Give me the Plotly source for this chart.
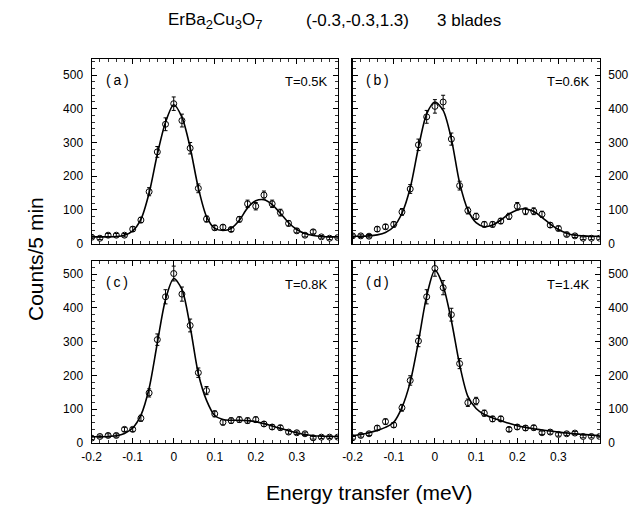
import plotly.graph_objects as go

# ---------------- data ----------------
energy = [-0.20, -0.18, -0.16, -0.14, -0.12, -0.10, -0.08, -0.06, -0.04, -0.02,
          0.00, 0.02, 0.04, 0.06, 0.08, 0.10, 0.12, 0.14, 0.16, 0.18,
          0.20, 0.22, 0.24, 0.26, 0.28, 0.30, 0.32, 0.34, 0.36, 0.38, 0.40]

counts_a = [19, 16, 25, 25, 25, 43, 70, 154, 272, 354, 415, 365, 283, 164, 73, 47,
            49, 42, 72, 118, 111, 144, 118, 92, 60, 38, 25, 35, 20, 16, 18]
err_a = [4, 4, 5, 5, 5, 7, 8, 12, 16, 19, 20, 19, 17, 13, 9, 7,
         7, 6, 8, 11, 11, 12, 11, 10, 8, 6, 5, 6, 4, 4, 4]
fit_a = [20, 20, 20, 21, 25, 38, 72, 150, 265, 360, 412, 375, 285, 165, 80, 45,
         39, 45, 69, 106, 127, 130, 116, 90, 62, 42, 30, 24, 21, 20, 20]

counts_b = [23, 23, 22, 43, 50, 57, 94, 162, 293, 376, 407, 420, 310, 172, 98, 81,
            57, 57, 67, 81, 111, 96, 96, 87, 55, 45, 27, 23, 16, 16, 16]
err_b = [5, 5, 5, 7, 7, 8, 10, 13, 17, 19, 20, 20, 18, 13, 10, 9,
         8, 8, 8, 9, 11, 10, 10, 9, 7, 7, 5, 5, 4, 4, 4]
fit_b = [22, 22, 23, 26, 33, 50, 90, 165, 285, 385, 420, 395, 310, 180, 100, 62,
         50, 55, 70, 88, 100, 103, 95, 78, 58, 42, 31, 25, 23, 22, 22]

counts_c = [14, 19, 22, 22, 40, 40, 73, 148, 306, 433, 502, 441, 348, 208, 155, 86,
            61, 66, 69, 66, 69, 56, 47, 45, 32, 30, 27, 15, 17, 17, 17]
err_c = [4, 4, 5, 5, 6, 6, 9, 12, 17, 21, 22, 21, 19, 14, 12, 9,
         8, 8, 8, 8, 8, 7, 7, 7, 6, 5, 5, 4, 4, 4, 4]
fit_c = [18, 18, 19, 21, 28, 44, 82, 162, 296, 425, 487, 455, 345, 205, 126, 81,
         69, 67, 67, 66, 63, 57, 50, 43, 36, 30, 25, 21, 20, 19, 19]

counts_d = [15, 22, 27, 44, 63, 53, 104, 185, 302, 433, 517, 460, 380, 235, 119, 124,
            88, 71, 71, 40, 47, 44, 45, 30, 32, 25, 27, 29, 19, 19, 19]
err_d = [4, 5, 5, 7, 8, 7, 10, 14, 17, 21, 23, 21, 19, 15, 11, 11,
         9, 8, 8, 6, 7, 7, 7, 5, 6, 5, 5, 5, 4, 4, 4]
fit_d = [22, 25, 30, 37, 46, 61, 105, 180, 300, 435, 512, 465, 362, 232, 138, 102,
         84, 74, 66, 58, 51, 46, 42, 38, 35, 32, 29, 27, 25, 23, 22]

panel_labels = ["(\u2009a\u2009)", "(\u2009b\u2009)", "(\u2009c\u2009)", "(\u2009d\u2009)"]
temperatures = ["T=0.5K", "T=0.6K", "T=0.8K", "T=1.4K"]

x_tick_vals = [-0.2, -0.1, 0.0, 0.1, 0.2, 0.3]
x_tick_text = ["-0.2", "-0.1", "0", "0.1", "0.2", "0.3"]
y_tick_vals = [0, 100, 200, 300, 400, 500]
y_tick_text = ["0", "100", "200", "300", "400", "500"]

SUB = "<sub><span style='font-size:13px'>{}</span></sub>"
title_parts = ["ErBa" + SUB.format("2") + "Cu" + SUB.format("3") + "O" + SUB.format("7"),
               "(-0.3,-0.3,1.3)", "3 blades"]
y_title = "Counts/5 min"
x_title = "Energy transfer (meV)"

# ---------------- layout geometry (pixels) ----------------
W, H = 639, 512
FONT = "Liberation Sans, Arial, Helvetica, sans-serif"


def px(v):
    return v / W


def py(v):
    return 1 - v / H


panels = [
    dict(x0=83, x1=333, y0=60, y1=247, yr=[0, 547], side="left", xlab=False),
    dict(x0=348, x1=599, y0=60, y1=247, yr=[0, 547], side="right", xlab=False),
    dict(x0=83, x1=333, y0=265, y1=449, yr=[0, 538], side="left", xlab=True),
    dict(x0=348, x1=599, y0=265, y1=449, yr=[0, 538], side="right", xlab=True),
]
series = [(counts_a, err_a, fit_a), (counts_b, err_b, fit_b),
          (counts_c, err_c, fit_c), (counts_d, err_d, fit_d)]

fig = go.Figure()
layout = dict(
    width=W, height=H, margin=dict(l=0, r=0, t=0, b=0),
    paper_bgcolor="white", plot_bgcolor="white", showlegend=False,
    font=dict(family=FONT, color="black"),
)
annotations = []

for i, (p, (cnt, err, fit)) in enumerate(zip(panels, series)):
    k = "" if i == 0 else str(i + 1)
    xa, ya = "x" + k, "y" + k
    fig.add_trace(go.Scatter(
        x=energy, y=fit, mode="lines", xaxis=xa, yaxis=ya,
        line=dict(color="black", width=1.6, shape="spline", smoothing=0.8),
        hoverinfo="skip"))
    fig.add_trace(go.Scatter(
        x=energy, y=cnt, mode="markers", xaxis=xa, yaxis=ya,
        marker=dict(symbol="circle-open", size=6, color="black", line=dict(width=1)),
        error_y=dict(type="data", array=err, visible=True, color="black",
                     thickness=1, width=2)))
    layout["xaxis" + k] = dict(
        domain=[px(p["x0"]), px(p["x1"])], anchor=ya, range=[-0.2, 0.4],
        showline=True, linecolor="black", linewidth=1.2, mirror="allticks",
        ticks="inside", ticklen=5, tickwidth=1, tickcolor="black",
        tickvals=x_tick_vals, ticktext=x_tick_text, ticklabelstandoff=3,
        showticklabels=p["xlab"], tickfont=dict(size=12, family=FONT),
        minor=dict(ticks="inside", ticklen=3, dtick=0.02, tick0=-0.2,
                   tickcolor="black", tickwidth=0.8, showgrid=False),
        showgrid=False, zeroline=False, fixedrange=True)
    layout["yaxis" + k] = dict(
        domain=[py(p["y1"]), py(p["y0"])], anchor=xa, range=p["yr"],
        side=p["side"],
        showline=True, linecolor="black", linewidth=1.2, mirror="allticks",
        ticks="inside", ticklen=5, tickwidth=1, tickcolor="black",
        tickvals=y_tick_vals, ticktext=y_tick_text, ticklabelstandoff=5,
        tickfont=dict(size=12, family=FONT),
        minor=dict(ticks="inside", ticklen=3, dtick=20, tick0=0,
                   tickcolor="black", tickwidth=0.8, showgrid=False),
        showgrid=False, zeroline=False, fixedrange=True)
    annotations.append(dict(
        text=panel_labels[i], x=px(p["x0"] + 12), y=py(p["y0"] + 21),
        xref="paper", yref="paper", xanchor="left", yanchor="middle",
        showarrow=False, font=dict(size=14, family=FONT)))
    annotations.append(dict(
        text=temperatures[i], x=px(p["x1"] - 8), y=py(p["y0"] + 23),
        xref="paper", yref="paper", xanchor="right", yanchor="middle",
        showarrow=False, font=dict(size=13, family=FONT)))

title_x = [208, 353, 466]
for t, xc in zip(title_parts, title_x):
    annotations.append(dict(
        text=t, x=px(xc), y=py(21), xref="paper", yref="paper",
        xanchor="center", yanchor="middle", showarrow=False,
        font=dict(size=17, family=FONT)))

annotations.append(dict(
    text=y_title, x=px(26), y=py(263), xref="paper", yref="paper",
    xanchor="center", yanchor="middle", textangle=-90, showarrow=False,
    font=dict(size=21, family=FONT)))
annotations.append(dict(
    text=x_title, x=px(365), y=py(499), xref="paper", yref="paper",
    xanchor="center", yanchor="middle", showarrow=False,
    font=dict(size=21, family=FONT)))

layout["annotations"] = annotations
fig.update_layout(**layout)
fig.write_html("out.html",
               config={"displayModeBar": False, "staticPlot": True},
               post_script="document.body.style.margin='0';"
                           "document.documentElement.style.margin='0';")
